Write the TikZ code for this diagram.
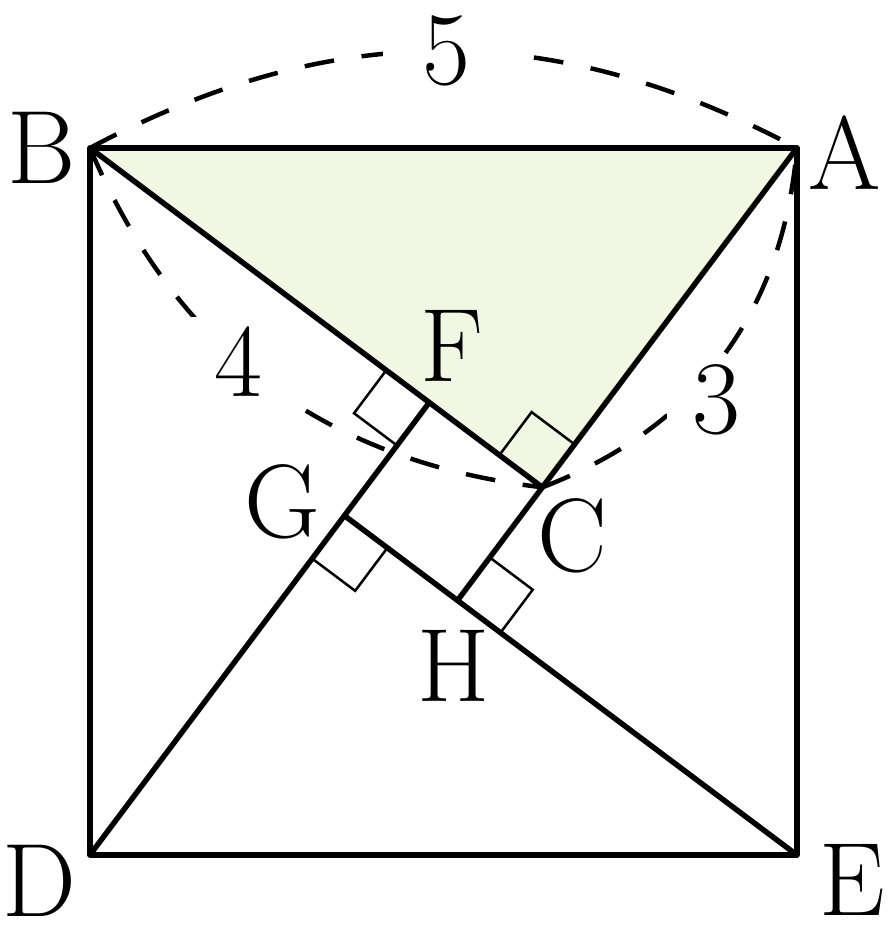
\documentclass[tikz,border=0pt]{standalone}
\usetikzlibrary{calc}
\definecolor{triFill}{RGB}{242,247,227}
\begin{document}
\begin{tikzpicture}[scale=1.0,
        edge/.style={line width=1.1pt, line join=round},
        arcline/.style={line width=0.9pt, dash pattern=on 6pt off 5.6pt},
        rmark/.style={line width=0.5pt},
        lbl/.style={font=\fontsize{21}{25}\selectfont, inner sep=0pt},
        lenlbl/.style={lbl, fill=white, inner xsep=5pt, inner ysep=2pt}]
        \useasboundingbox (-0.636,-0.651) rectangle (5.686,6.047);
        % corners of the square and of the inner square
        \coordinate (D) at (0,0);
        \coordinate (E) at (5,0);
        \coordinate (A) at (5,5);
        \coordinate (B) at (0,5);
        \coordinate (C) at (3.2,2.6);
        \coordinate (F) at (2.4,3.2);
        \coordinate (G) at (1.8,2.4);
        \coordinate (H) at (2.6,1.8);
        \fill[triFill] (A) -- (B) -- (C) -- cycle;
        % right angle marks
        \foreach \v/\p/\q in {C/B/A, F/B/D, G/D/E, H/E/A}
            \draw[rmark] ($(\v)!0.38cm!(\p)$) -- ++($(\v)!0.38cm!(\q)-(\v)$) -- ($(\v)!0.38cm!(\q)$);
        \draw[edge] (B) -- (A) -- (E) -- (D) -- cycle;
        \draw[edge] (B) -- (C);
        \draw[edge] (A) -- (H);
        \draw[edge] (D) -- (F);
        \draw[edge] (E) -- (G);
        \draw[arcline] (B) to[bend left=28] (A);
        \draw[arcline] (B) to[bend right=30] (C);
        \draw[arcline] (C) to[bend right=32] (A);
        \node[lenlbl, inner xsep=8pt] (lenBA) at (2.52,5.69) {5};
        \node[lenlbl] (lenBC) at (1.05,3.49) {4};
        \node[lenlbl] (lenCA) at (4.43,3.22) {3};
        \node[lbl] (labA) at (5.34,4.97) {A};
        \node[lbl] (labB) at (-0.34,5.0) {B};
        \node[lbl] (labC) at (3.41,2.26) {C};
        \node[lbl] (labD) at (-0.36,-0.18) {D};
        \node[lbl] (labE) at (5.39,-0.18) {E};
        \node[lbl] (labF) at (2.56,3.60) {F};
        \node[lbl] (labG) at (1.36,2.50) {G};
        \node[lbl] (labH) at (2.57,1.34) {H};
    \end{tikzpicture}
\end{document}
